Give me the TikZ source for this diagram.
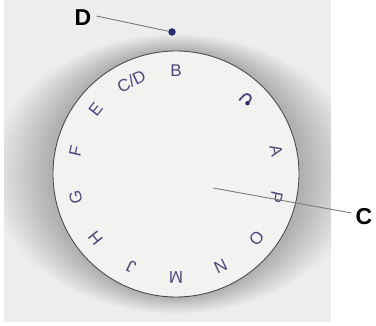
\documentclass[tikz,border=0pt]{standalone}
\usepackage{fontspec}
\setmainfont{Liberation Sans}
\usetikzlibrary{calc}
\definecolor{fond}{HTML}{EDEDED}
\definecolor{cadran}{HTML}{F2F2F0}
\definecolor{lettre}{HTML}{4A4A7C}
\definecolor{point}{HTML}{2A2A6C}
\definecolor{trait}{HTML}{7A7A7A}
\tikzset{
  repere/.style={font=\bfseries\fontsize{23}{23}\selectfont, inner sep=1pt},
  graduation/.style={font=\fontsize{17}{17}\selectfont, text=lettre, inner sep=0pt},
  fleche/.style={draw=trait, line width=0.9pt},
}
\begin{document}
\begin{tikzpicture}[x=1pt,y=1pt]
  \useasboundingbox (0,0) rectangle (376,326);

    \coordinate (centre) at (176,152);
    \def\rayonC{123}
    \def\rayonL{103}
  % Photo
  \begin{scope}
    \clip (4,4) rectangle (331,326);
    \fill[fond] (4,4) rectangle (331,326);
    % ombre autour du cadran
    \foreach \k in {0,...,29}
      \fill[black, opacity=0.009] (176,152) ellipse ({186-\k*2} and {140-\k*0.55});
  \end{scope}

  % Cadran
  \fill[cadran] (centre) circle (\rayonC);
  \draw[line width=0.9pt, black!70] (centre) circle (\rayonC);

  % Lettres
  \foreach \ang/\lab in {90/B, 115.7/{C/D}, 141.4/E, 167/F, 192.9/G,
      218.6/H, 244.3/J, 270/M, 295.7/N, 321.4/O, 347/P, 12.9/A}
    \node[graduation, rotate=\ang-90] at ($(centre)+(\ang:\rayonL)$) {\lab};

  % symbole
  \begin{scope}[shift={($(centre)+(47:\rayonL)$)}, rotate=-43]
    \draw[lettre, line width=1.8pt] (-4,-6) -- (-4,1) arc (180:0:4) -- (4,-1);
    \fill[point] (4,-2.5) circle (2.2);
  \end{scope}

  % Point D
  \node[circle, fill=point, inner sep=0pt, minimum size=7.5pt] (pointD) at (172,294) {};
  \node[repere] (labD) at (83,308) {D};
  \draw[fleche] (labD.east) ++(4,2) coordinate (debD) -- (pointD);

  % Repere C
  \coordinate (ptC) at (213,138);
  \node[repere] (labC) at (364,109) {C};
  \draw[fleche] (ptC) -- ([xshift=-3pt,yshift=4pt]labC.west);
\end{tikzpicture}
\end{document}
